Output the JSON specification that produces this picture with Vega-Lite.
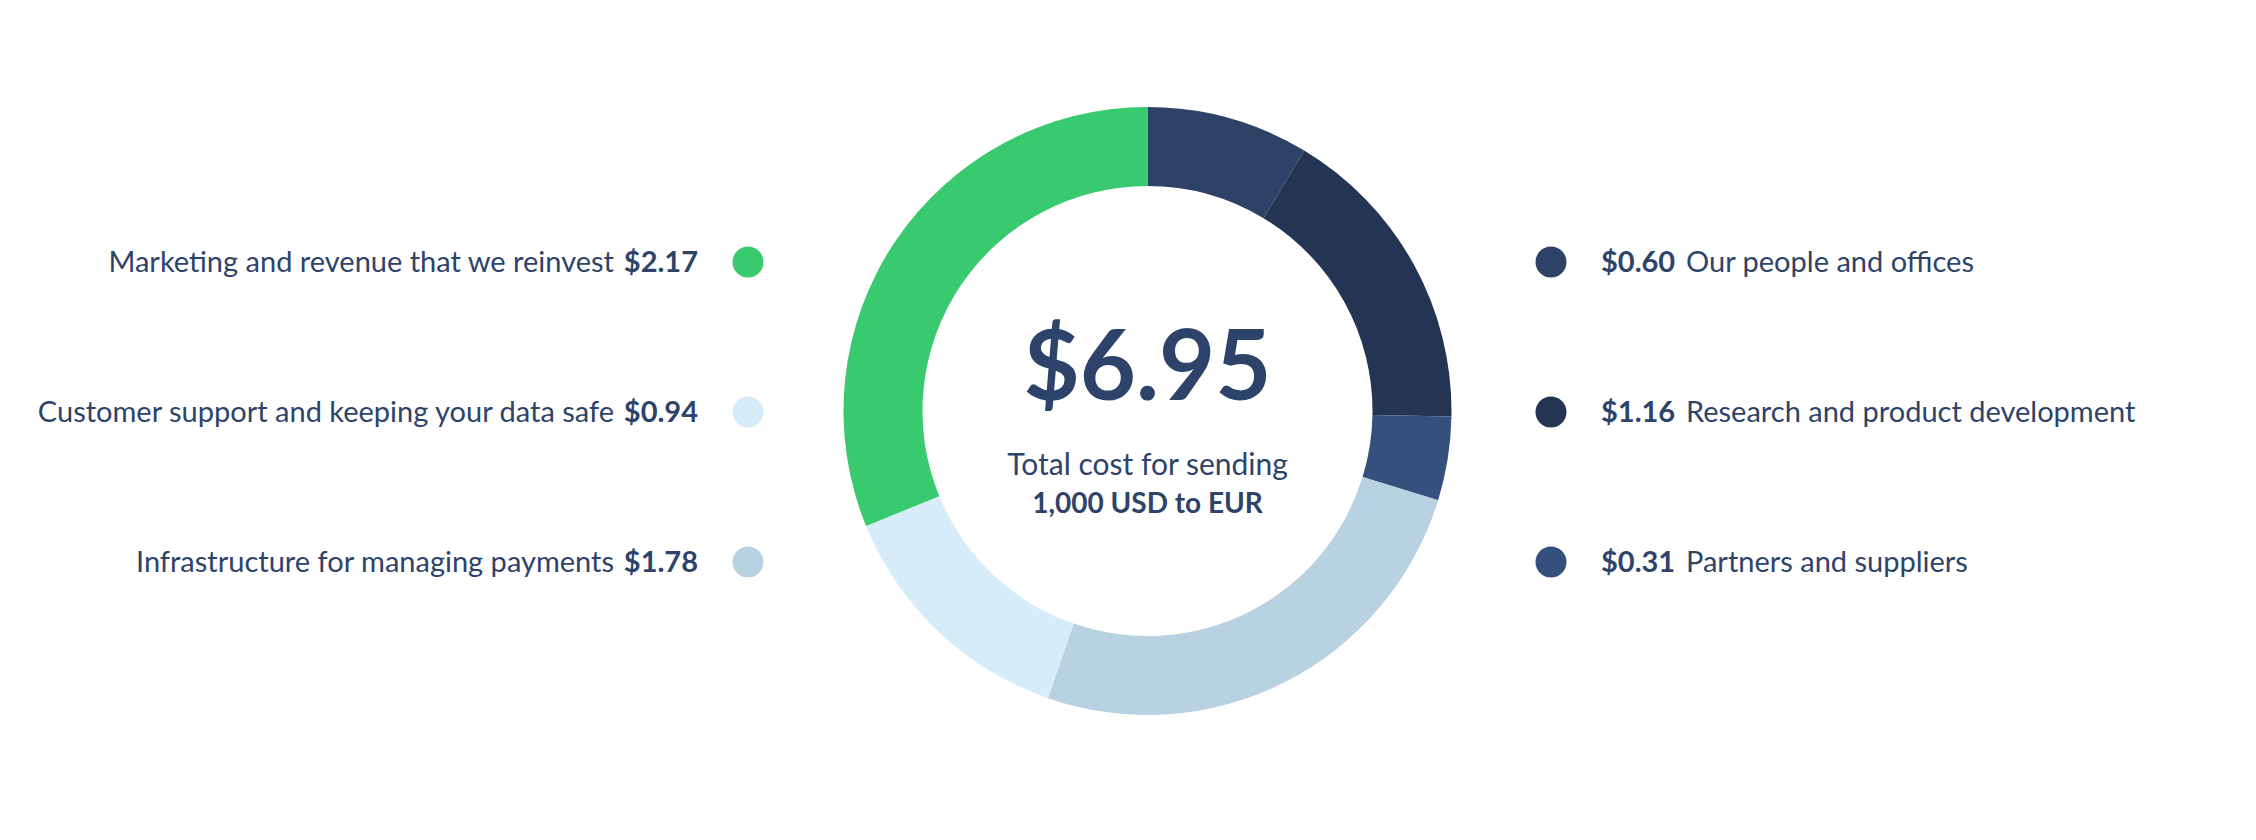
{
  "$schema": "https://vega.github.io/schema/vega-lite/v6.json",
  "width": 2256,
  "height": 840,
  "autosize": {"type": "fit", "contains": "padding"},
  "padding": {"left": 35, "top": 0, "right": 0, "bottom": 18},
  "background": "white",
  "config": {
    "view": {"stroke": null},
    "text": {"font": "Lato", "color": "#2e4369"}
  },
  "datasets": {
    "costs": [
      {"category": "Our people and offices", "amount": 0.60, "side": "right", "row": 1, "seq": 1},
      {"category": "Research and product development", "amount": 1.16, "side": "right", "row": 2, "seq": 2},
      {"category": "Partners and suppliers", "amount": 0.31, "side": "right", "row": 3, "seq": 3},
      {"category": "Infrastructure for managing payments", "amount": 1.78, "side": "left", "row": 3, "seq": 4},
      {"category": "Customer support and keeping your data safe", "amount": 0.94, "side": "left", "row": 2, "seq": 5},
      {"category": "Marketing and revenue that we reinvest", "amount": 2.17, "side": "left", "row": 1, "seq": 6}
    ]
  },
  "data": {"name": "costs"},
  "layer": [
    {
      "mark": {"type": "arc", "innerRadius": 225, "outerRadius": 304},
      "encoding": {
        "theta": {"field": "amount", "type": "quantitative", "stack": true},
        "order": {"field": "seq", "type": "quantitative"},
        "color": {
          "field": "category",
          "type": "nominal",
          "legend": null,
          "scale": {
            "domain": ["Our people and offices", "Research and product development", "Partners and suppliers", "Infrastructure for managing payments", "Customer support and keeping your data safe", "Marketing and revenue that we reinvest"],
            "range": ["#2e4268", "#243553", "#35507d", "#b9d2e1", "#d7ecf9", "#39c96e"]
          }
        }
      }
    },
    {
      "mark": {"type": "point", "filled": true, "opacity": 1, "size": 961, "shape": "circle"},
      "encoding": {
        "x": {"field": "side", "type": "nominal", "axis": null, "scale": {"type": "point", "padding": 0, "domain": ["left", "right"], "range": [709, 1512]}},
        "y": {"field": "row", "type": "ordinal", "axis": null, "scale": {"type": "point", "padding": 0, "domain": [1, 2, 3], "range": [262, 562]}},
        "color": {"field": "category", "type": "nominal"}
      }
    },
    {
      "transform": [{"filter": "datum.side == 'left'"}],
      "mark": {"type": "text", "align": "right", "baseline": "middle", "dx": -50, "dy": 1, "fontSize": 29, "fontWeight": "bold"},
      "encoding": {
        "x": {"field": "side", "type": "nominal"},
        "y": {"field": "row", "type": "ordinal"},
        "text": {"field": "amount", "type": "quantitative", "format": "$.2f"}
      }
    },
    {
      "transform": [{"filter": "datum.side == 'left'"}],
      "mark": {"type": "text", "align": "right", "baseline": "middle", "dx": -134, "dy": 1, "fontSize": 29},
      "encoding": {
        "x": {"field": "side", "type": "nominal"},
        "y": {"field": "row", "type": "ordinal"},
        "text": {"field": "category", "type": "nominal"}
      }
    },
    {
      "transform": [{"filter": "datum.side == 'right'"}],
      "mark": {"type": "text", "align": "left", "baseline": "middle", "dx": 50, "dy": 1, "fontSize": 29, "fontWeight": "bold"},
      "encoding": {
        "x": {"field": "side", "type": "nominal"},
        "y": {"field": "row", "type": "ordinal"},
        "text": {"field": "amount", "type": "quantitative", "format": "$.2f"}
      }
    },
    {
      "transform": [{"filter": "datum.side == 'right'"}],
      "mark": {"type": "text", "align": "left", "baseline": "middle", "dx": 135, "dy": 1, "fontSize": 29},
      "encoding": {
        "x": {"field": "side", "type": "nominal"},
        "y": {"field": "row", "type": "ordinal"},
        "text": {"field": "category", "type": "nominal"}
      }
    },
    {
      "data": {"values": [{"t": "$6.95"}]},
      "mark": {"type": "text", "align": "center", "baseline": "alphabetic", "dy": -11, "fontSize": 97, "fontWeight": "bold"},
      "encoding": {"text": {"field": "t", "type": "nominal"}}
    },
    {
      "data": {"values": [{"t": "Total cost for sending"}]},
      "mark": {"type": "text", "align": "center", "baseline": "alphabetic", "dy": 64, "fontSize": 30},
      "encoding": {"text": {"field": "t", "type": "nominal"}}
    },
    {
      "data": {"values": [{"t": "1,000 USD to EUR"}]},
      "mark": {"type": "text", "align": "center", "baseline": "alphabetic", "dy": 102, "fontSize": 28, "fontWeight": "bold"},
      "encoding": {"text": {"field": "t", "type": "nominal"}}
    }
  ]
}
